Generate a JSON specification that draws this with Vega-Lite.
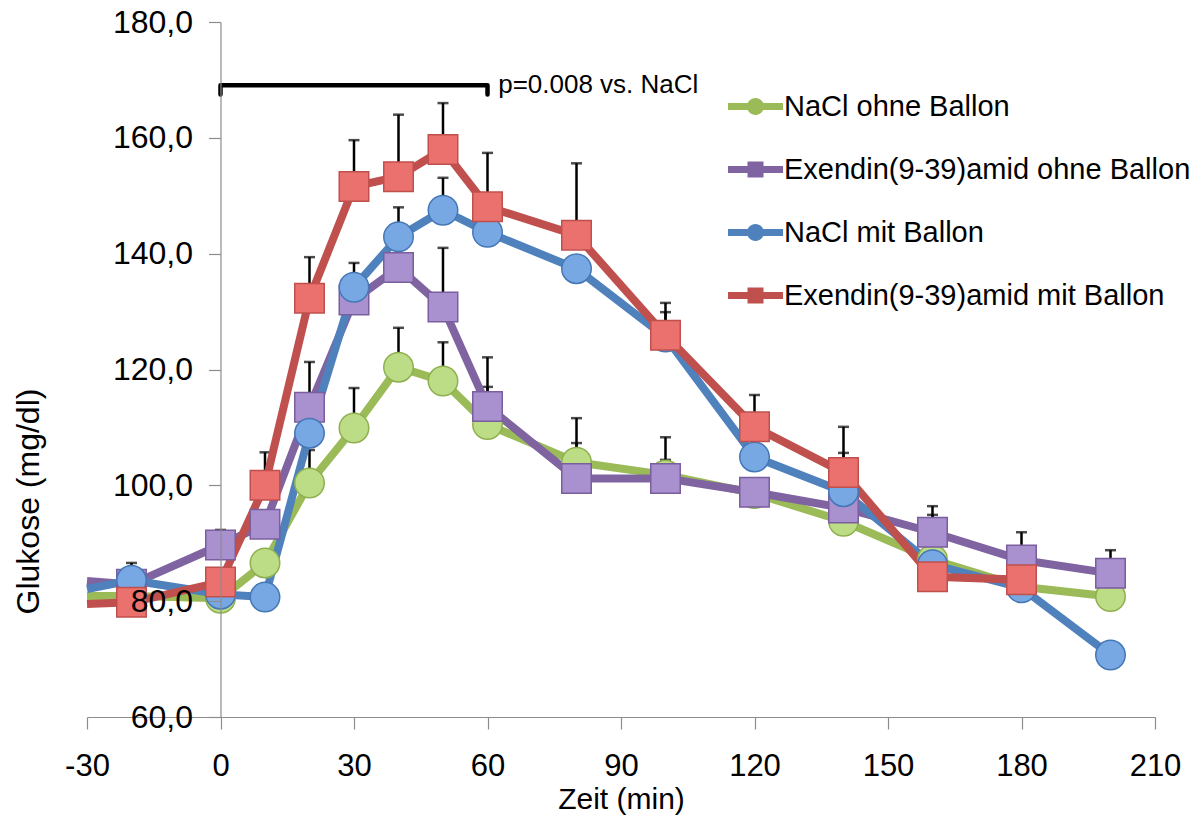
{
  "$schema": "https://vega.github.io/schema/vega-lite/v6.json",
  "width": 1068,
  "height": 695,
  "autosize": "none",
  "padding": {"left": 87, "top": 22, "right": 49, "bottom": 99},
  "background": "white",
  "config": {
    "view": {"stroke": null},
    "font": "Liberation Sans",
    "axis": {"labelFont": "Liberation Sans", "titleFont": "Liberation Sans", "labelColor": "black", "titleColor": "black", "titleFontWeight": "normal", "grid": false, "domainColor": "#8c8c8c", "tickColor": "#8c8c8c", "domainWidth": 1.2, "tickWidth": 1.2},
    "legend": {"labelFont": "Liberation Sans", "labelColor": "black"}
  },
  "datasets": {
    "glc": [
      {"t": -30, "s": "NaCl ohne Ballon", "g": 80.9},
      {"t": -20, "s": "NaCl ohne Ballon", "g": 80.9},
      {"t": 0, "s": "NaCl ohne Ballon", "g": 80.5},
      {"t": 10, "s": "NaCl ohne Ballon", "g": 86.6},
      {"t": 20, "s": "NaCl ohne Ballon", "g": 100.4, "top": 106.1},
      {"t": 30, "s": "NaCl ohne Ballon", "g": 109.9, "top": 116.8},
      {"t": 40, "s": "NaCl ohne Ballon", "g": 120.4, "top": 127.2},
      {"t": 50, "s": "NaCl ohne Ballon", "g": 118.0, "top": 124.7},
      {"t": 60, "s": "NaCl ohne Ballon", "g": 110.5, "top": 117.0},
      {"t": 80, "s": "NaCl ohne Ballon", "g": 104.0, "top": 111.6},
      {"t": 100, "s": "NaCl ohne Ballon", "g": 101.8, "top": 104.4},
      {"t": 120, "s": "NaCl ohne Ballon", "g": 98.6},
      {"t": 140, "s": "NaCl ohne Ballon", "g": 93.8},
      {"t": 160, "s": "NaCl ohne Ballon", "g": 87.2, "top": 94.9},
      {"t": 180, "s": "NaCl ohne Ballon", "g": 82.5},
      {"t": 200, "s": "NaCl ohne Ballon", "g": 80.8},
      {"t": -30, "s": "Exendin(9-39)amid ohne Ballon", "g": 83.5},
      {"t": -20, "s": "Exendin(9-39)amid ohne Ballon", "g": 82.9},
      {"t": 0, "s": "Exendin(9-39)amid ohne Ballon", "g": 89.7, "top": 92.3},
      {"t": 10, "s": "Exendin(9-39)amid ohne Ballon", "g": 93.3},
      {"t": 20, "s": "Exendin(9-39)amid ohne Ballon", "g": 113.5, "top": 121.3},
      {"t": 30, "s": "Exendin(9-39)amid ohne Ballon", "g": 132.0},
      {"t": 40, "s": "Exendin(9-39)amid ohne Ballon", "g": 137.6},
      {"t": 50, "s": "Exendin(9-39)amid ohne Ballon", "g": 130.8, "top": 141.0},
      {"t": 60, "s": "Exendin(9-39)amid ohne Ballon", "g": 113.6, "top": 122.1},
      {"t": 80, "s": "Exendin(9-39)amid ohne Ballon", "g": 101.2, "top": 107.3},
      {"t": 100, "s": "Exendin(9-39)amid ohne Ballon", "g": 101.2, "top": 108.3},
      {"t": 120, "s": "Exendin(9-39)amid ohne Ballon", "g": 98.8},
      {"t": 140, "s": "Exendin(9-39)amid ohne Ballon", "g": 96.1},
      {"t": 160, "s": "Exendin(9-39)amid ohne Ballon", "g": 91.9, "top": 96.4},
      {"t": 180, "s": "Exendin(9-39)amid ohne Ballon", "g": 87.1, "top": 91.9},
      {"t": 200, "s": "Exendin(9-39)amid ohne Ballon", "g": 84.8, "top": 88.8},
      {"t": -30, "s": "NaCl mit Ballon", "g": 82.1},
      {"t": -20, "s": "NaCl mit Ballon", "g": 83.6, "top": 86.6},
      {"t": 0, "s": "NaCl mit Ballon", "g": 81.2},
      {"t": 10, "s": "NaCl mit Ballon", "g": 80.7},
      {"t": 20, "s": "NaCl mit Ballon", "g": 109.0},
      {"t": 30, "s": "NaCl mit Ballon", "g": 134.2, "top": 138.4},
      {"t": 40, "s": "NaCl mit Ballon", "g": 142.9, "top": 148.0},
      {"t": 50, "s": "NaCl mit Ballon", "g": 147.5, "top": 153.1},
      {"t": 60, "s": "NaCl mit Ballon", "g": 143.7},
      {"t": 80, "s": "NaCl mit Ballon", "g": 137.4},
      {"t": 100, "s": "NaCl mit Ballon", "g": 125.6, "top": 129.9},
      {"t": 120, "s": "NaCl mit Ballon", "g": 104.9},
      {"t": 140, "s": "NaCl mit Ballon", "g": 98.9, "top": 105.6},
      {"t": 160, "s": "NaCl mit Ballon", "g": 86.3},
      {"t": 180, "s": "NaCl mit Ballon", "g": 82.3},
      {"t": 200, "s": "NaCl mit Ballon", "g": 70.7},
      {"t": -30, "s": "Exendin(9-39)amid mit Ballon", "g": 79.5},
      {"t": -20, "s": "Exendin(9-39)amid mit Ballon", "g": 79.8},
      {"t": 0, "s": "Exendin(9-39)amid mit Ballon", "g": 83.3},
      {"t": 10, "s": "Exendin(9-39)amid mit Ballon", "g": 100.0, "top": 105.7},
      {"t": 20, "s": "Exendin(9-39)amid mit Ballon", "g": 132.3, "top": 139.4},
      {"t": 30, "s": "Exendin(9-39)amid mit Ballon", "g": 151.6, "top": 159.6},
      {"t": 40, "s": "Exendin(9-39)amid mit Ballon", "g": 153.3, "top": 164.0},
      {"t": 50, "s": "Exendin(9-39)amid mit Ballon", "g": 158.0, "top": 166.0},
      {"t": 60, "s": "Exendin(9-39)amid mit Ballon", "g": 148.1, "top": 157.4},
      {"t": 80, "s": "Exendin(9-39)amid mit Ballon", "g": 143.2, "top": 155.6},
      {"t": 100, "s": "Exendin(9-39)amid mit Ballon", "g": 125.9, "top": 131.5},
      {"t": 120, "s": "Exendin(9-39)amid mit Ballon", "g": 110.1, "top": 115.6},
      {"t": 140, "s": "Exendin(9-39)amid mit Ballon", "g": 102.2, "top": 110.1},
      {"t": 160, "s": "Exendin(9-39)amid mit Ballon", "g": 84.2},
      {"t": 180, "s": "Exendin(9-39)amid mit Ballon", "g": 83.7}
    ],
    "bracket": [
      {"t": 0, "v": 167.5, "k": 1},
      {"t": 0, "v": 169.1, "k": 2},
      {"t": 60, "v": 169.1, "k": 3},
      {"t": 60, "v": 167.5, "k": 4}
    ],
    "note": [
      {"t": 62.4, "v": 169.2, "label": "p=0.008 vs. NaCl"}
    ]
  },
  "encoding": {
    "x": {"field": "t", "type": "quantitative", "scale": {"domain": [-30, 210], "nice": false, "zero": false},
      "axis": {"values": [-30, 0, 30, 60, 90, 120, 150, 180, 210], "labelExpr": "'' + datum.value", "labelFontSize": 31, "tickSize": 12, "labelPadding": 22, "labelFlush": false, "labelOverlap": false, "title": "Zeit (min)", "titleFontSize": 30, "titlePadding": 3}},
    "y": {"field": "g", "type": "quantitative", "scale": {"domain": [60, 180], "nice": false, "zero": false},
      "axis": {"values": [60, 80, 100, 120, 140, 160, 180], "offset": -133.5, "zindex": 1, "labelFontSize": 32, "tickSize": 12, "labelPadding": 16, "labelExpr": "replace(format(datum.value, '.1f'), '.', ',')", "title": "Glukose (mg/dl)", "titleFontSize": 32, "titleX": -192, "titleY": 479, "titleAngle": -90, "titleBaseline": "middle", "titleAlign": "center"}}
  },
  "layer": [
    {
      "data": {"name": "glc"},
      "transform": [{"filter": "datum.t > 1000"}],
      "mark": {"type": "point", "filled": true, "opacity": 1},
      "encoding": {
        "color": {"field": "s", "type": "nominal",
          "scale": {"domain": ["NaCl ohne Ballon", "Exendin(9-39)amid ohne Ballon", "NaCl mit Ballon", "Exendin(9-39)amid mit Ballon"], "range": ["#9BBB59", "#8064A2", "#4F81BD", "#C0504D"]},
          "legend": {"title": null, "orient": "none", "legendX": 654, "legendY": 70, "direction": "vertical", "symbolSize": 400, "symbolStrokeWidth": 0, "labelFontSize": 29, "labelOffset": 14, "rowPadding": 33, "labelLimit": 600, "padding": 0}},
        "shape": {"field": "s", "type": "nominal",
          "scale": {"domain": ["NaCl ohne Ballon", "Exendin(9-39)amid ohne Ballon", "NaCl mit Ballon", "Exendin(9-39)amid mit Ballon"],
            "range": ["M-2.75,-0.35H2.75V0.35H-2.75Z M0.85,0A0.85,0.85,0,1,1,-0.85,0A0.85,0.85,0,1,1,0.85,0Z", "M-2.75,-0.35H2.75V0.35H-2.75Z M-0.8,-0.8H0.8V0.8H-0.8Z", "M-2.75,-0.35H2.75V0.35H-2.75Z M0.85,0A0.85,0.85,0,1,1,-0.85,0A0.85,0.85,0,1,1,0.85,0Z", "M-2.75,-0.35H2.75V0.35H-2.75Z M-0.8,-0.8H0.8V0.8H-0.8Z"]}}
      }
    },
    {
      "data": {"name": "glc"},
      "transform": [{"filter": "isValid(datum.top)"}],
      "mark": {"type": "rule", "color": "black", "strokeWidth": 2.5},
      "encoding": {"y2": {"field": "top"}}
    },
    {
      "data": {"name": "glc"},
      "transform": [{"filter": "isValid(datum.top)"}],
      "mark": {"type": "tick", "orient": "horizontal", "size": 11, "thickness": 2.5, "color": "black"},
      "encoding": {"y": {"field": "top", "type": "quantitative"}}
    },
    {
      "data": {"name": "glc"},
      "mark": {"type": "line", "strokeWidth": 8, "strokeJoin": "round", "strokeCap": "butt"},
      "encoding": {
        "stroke": {"field": "s", "type": "nominal",
          "scale": {"domain": ["NaCl ohne Ballon", "Exendin(9-39)amid ohne Ballon", "NaCl mit Ballon", "Exendin(9-39)amid mit Ballon"], "range": ["#9BBB59", "#8064A2", "#4F81BD", "#C0504D"]},
          "legend": null},
        "detail": {"field": "s"}
      }
    },
    {
      "data": {"name": "glc"},
      "transform": [{"filter": "datum.t >= -20 && datum.s === 'NaCl ohne Ballon'"}],
      "mark": {"type": "point", "shape": "circle", "filled": true, "size": 870, "strokeWidth": 1.5, "opacity": 1, "fill": "#bddc86", "stroke": "#8fb04f"}
    },
    {
      "data": {"name": "glc"},
      "transform": [{"filter": "datum.t >= -20 && datum.s === 'Exendin(9-39)amid ohne Ballon'"}],
      "mark": {"type": "point", "shape": "square", "filled": true, "size": 870, "strokeWidth": 1.5, "opacity": 1, "fill": "#a990cf", "stroke": "#7a5e9e"}
    },
    {
      "data": {"name": "glc"},
      "transform": [{"filter": "datum.t >= -20 && datum.s === 'NaCl mit Ballon'"}],
      "mark": {"type": "point", "shape": "circle", "filled": true, "size": 870, "strokeWidth": 1.5, "opacity": 1, "fill": "#78a8e4", "stroke": "#4477b5"}
    },
    {
      "data": {"name": "glc"},
      "transform": [{"filter": "datum.t >= -20 && datum.s === 'Exendin(9-39)amid mit Ballon'"}],
      "mark": {"type": "point", "shape": "square", "filled": true, "size": 870, "strokeWidth": 1.5, "opacity": 1, "fill": "#ea716d", "stroke": "#c0504d"}
    },
    {
      "data": {"name": "bracket"},
      "mark": {"type": "line", "color": "black", "strokeWidth": 4.5, "strokeJoin": "round", "strokeCap": "round"},
      "encoding": {"y": {"field": "v", "type": "quantitative"}, "order": {"field": "k"}}
    },
    {
      "data": {"name": "note"},
      "mark": {"type": "text", "align": "left", "baseline": "middle", "fontSize": 26, "color": "black", "font": "Liberation Sans"},
      "encoding": {"y": {"field": "v", "type": "quantitative"}, "text": {"field": "label"}}
    }
  ]
}
